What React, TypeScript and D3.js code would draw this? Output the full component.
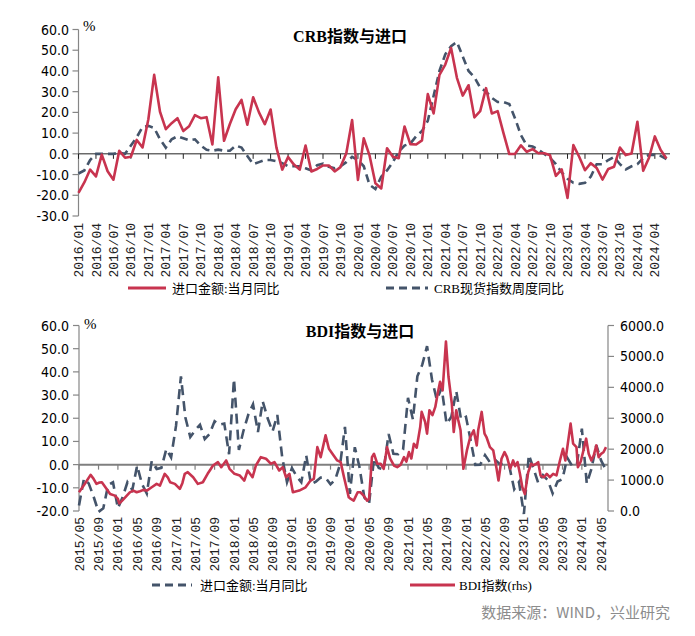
import React from "react";
import * as d3 from "d3";

const W = 695;
const H = 636;

// ---------- DATA ----------
// China import value YoY (%), monthly, starting 2015/05
const importStart = "2015-05";
const importYoY = [
  -17.6, -6.1, -8.1, -13.8, -20.4, -18.8, -8.7, -7.6,
  -18.8, -13.8, -7.6, -10.9, -0.4, -8.4, -12.5, 1.5, -1.9, -1.4, 6.7, 3.1,
  16.7, 38.1, 20.3, 11.9, 14.8, 17.2, 11.0, 13.3, 18.7, 17.2, 17.7, 4.5,
  36.9, 6.3, 14.4, 21.5, 26.0, 14.1, 27.3, 20.0, 14.3, 21.4, 3.0, -7.6,
  -1.5, -5.2, -7.6, 4.0, -8.5, -7.3, -5.6, -5.6, -8.5, -6.4, 0.3, 16.3,
  -12.6, 7.5, -0.9, -14.2, -16.7, 2.7, -1.4, -2.1, 13.2, 4.7, 4.5, 6.5,
  28.8, 19.5, 38.1, 43.1, 51.1, 36.7, 28.1, 33.1, 17.6, 20.6, 31.7, 19.5,
  20.6, 10.0, -0.1, 0.0, 4.1, 1.0, 2.3, 0.3, 0.3, -0.7, -10.6, -7.5,
  -21.3, 4.2, -1.4, -7.9, -4.5, -6.8, -12.4, -7.3, -6.2, 3.0, -0.6, 0.2,
  15.5, -8.2, -1.9, 8.4, 1.8, -2.3,
];

// CRB spot index weekly YoY (%), sampled monthly, starting 2016/01
const crbStart = "2016-01";
const crbYoY = [
  -9.5, -8, -3, 0, 0, 0, 0, 0.5, 0, 4, 8, 13,
  13.5, 12.5, 7, 3, 7, 8.5, 7.5, 6.5, 7, 4, 2, 1.5,
  2, 1.5, 1.5, 4, 3, -1, -5, -4, -3, -3, -3.5, -4.5,
  -6, -6, -6, -7, -8, -5.5, -4.7, -6.2, -7, -6, -4, -1.5,
  -3, -6, -15, -17, -11, -8, -4, 1, 4, 5, 8.5, 11,
  16, 28, 40, 48, 52, 54, 47, 40, 37, 32, 30, 27,
  25, 25, 24, 17, 9, 4, 3.5, 2, 0, -2, -5, -9,
  -12, -14, -14.5, -14, -11, -5, -5, -3, -1.5, -5, -7.5, -6,
  -5, -2, -0.5, -0.5, -1, -2.5,
];

// BDI index (rhs)
const bdiDates = [
  "2015-05-01", "2015-06-07", "2015-07-13", "2015-08-01", "2015-08-19", "2015-09-07", "2015-09-22", "2015-10-22",
  "2015-11-13", "2015-12-13", "2016-01-01", "2016-01-10", "2016-01-25", "2016-02-16", "2016-03-16", "2016-04-07",
  "2016-04-28", "2016-05-19", "2016-06-10", "2016-07-01", "2016-08-01", "2016-09-01", "2016-09-22", "2016-10-22",
  "2016-11-10", "2016-11-25", "2016-12-25", "2017-01-25", "2017-02-10", "2017-02-25", "2017-03-16", "2017-04-19",
  "2017-05-19", "2017-06-19", "2017-07-19", "2017-08-07", "2017-08-22", "2017-09-22", "2017-10-13", "2017-11-13",
  "2017-12-04", "2018-01-04", "2018-02-07", "2018-03-07", "2018-03-28", "2018-04-28", "2018-05-19", "2018-06-19",
  "2018-07-22", "2018-08-22", "2018-09-13", "2018-10-13", "2018-11-04", "2018-11-25", "2018-12-16", "2019-01-07",
  "2019-02-16", "2019-03-28", "2019-04-28", "2019-05-19", "2019-06-10", "2019-07-01", "2019-08-01", "2019-08-22",
  "2019-09-13", "2019-10-13", "2019-11-04", "2019-11-25", "2019-12-25", "2020-01-07", "2020-01-25", "2020-02-19",
  "2020-03-07", "2020-03-28", "2020-04-19", "2020-05-01", "2020-05-19", "2020-06-01", "2020-06-22", "2020-07-13",
  "2020-08-01", "2020-08-22", "2020-09-10", "2020-10-04", "2020-10-25", "2020-11-16", "2020-12-07", "2020-12-22",
  "2021-01-07", "2021-01-22", "2021-02-07", "2021-02-25", "2021-03-19", "2021-03-28", "2021-04-19", "2021-05-01",
  "2021-05-16", "2021-06-04", "2021-06-22", "2021-07-07", "2021-07-22", "2021-08-07", "2021-08-28", "2021-09-13",
  "2021-10-04", "2021-10-16", "2021-11-01", "2021-11-13", "2021-11-28", "2021-12-16", "2022-01-07", "2022-01-28",
  "2022-02-19", "2022-03-10", "2022-03-19", "2022-04-10", "2022-04-28", "2022-05-10", "2022-06-01", "2022-06-22",
  "2022-07-13", "2022-07-25", "2022-08-13", "2022-09-01", "2022-09-16", "2022-10-07", "2022-10-25", "2022-11-07",
  "2022-11-22", "2022-12-07", "2022-12-22", "2023-01-07", "2023-01-28", "2023-02-16", "2023-03-01", "2023-03-19",
  "2023-04-01", "2023-04-16", "2023-05-07", "2023-05-25", "2023-06-13", "2023-07-04", "2023-07-25", "2023-08-16",
  "2023-09-04", "2023-09-19", "2023-10-01", "2023-10-22", "2023-11-07", "2023-11-28", "2023-12-07", "2023-12-25",
  "2024-01-16", "2024-01-28", "2024-02-13", "2024-03-01", "2024-03-16", "2024-04-01", "2024-04-16", "2024-05-01",
  "2024-05-16", "2024-06-01",
];
const bdiValues = [
  605, 880, 1170, 1040, 877, 920, 930, 715,
  552, 497, 390, 247, 320, 442, 605, 660,
  607, 640, 683, 660, 767, 877, 822, 1202,
  1090, 930, 877, 715, 900, 1202, 1255, 1092,
  877, 930, 1202, 1350, 1472, 1580, 1418, 1635,
  1365, 1202, 1147, 985, 1310, 1092, 1472, 1742,
  1690, 1527, 1580, 1310, 1418, 1092, 1202, 605,
  660, 767, 985, 1040, 2067, 1742, 2447, 2015,
  1852, 1635, 1580, 1092, 442, 390, 336, 605,
  607, 497, 335, 400, 1742, 1850, 1527, 1527,
  1365, 2067, 1700, 1472, 1418, 1500, 1742, 1600,
  1905, 1700, 2177, 2050, 2717, 3205, 2880, 2502,
  3260, 3100, 3367, 3800, 4180, 3900, 5480, 4342,
  3477, 2555, 3260, 2950, 2610, 1365, 1960, 2392,
  2610, 2122, 2610, 3205, 2502, 2392, 2067, 1960,
  1365, 985, 1690, 1905, 1750, 1365, 1635, 1450,
  1580, 1202, 767, 552, 1255, 1527, 1480, 1527,
  1580, 1147, 1092, 1200, 1092, 1202, 1150, 1635,
  2015, 1635, 2050, 2827, 2177, 2067, 1418, 1600,
  2067, 2340, 1852, 1635, 1800, 2122, 1742, 1850,
  1900, 2067,
];

const topYTicks = [60, 50, 40, 30, 20, 10, 0, -10, -20, -30];
const botLeftTicks = [60, 50, 40, 30, 20, 10, 0, -10, -20];
const botRightTicks = [6000, 5000, 4000, 3000, 2000, 1000, 0];

const topTitle = "CRB指数与进口";
const botTitle = "BDI指数与进口";
const legImport = "进口金额:当月同比";
const legCrb = "CRB现货指数周度同比";
const legBdi = "BDI指数(rhs)";
const sourceText = "数据来源：WIND，兴业研究";

// ---------- STYLE ----------
const RED = "#C8344F";
const NAVY = "#44546A";
const AXIS_GRAY = "#868686";
const NUM_FONT = "'Liberation Sans Narrow', 'DejaVu Sans Condensed', 'Liberation Sans', sans-serif";
const MONO_FONT = "'Liberation Mono', 'DejaVu Sans Mono', monospace";
const SERIF_CJK = "'Liberation Serif', 'Noto Sans CJK SC', serif";

const parseMonth = d3.timeParse("%Y-%m");
const parseDay = d3.timeParse("%Y-%m-%d");
const fmtMonth = d3.timeFormat("%Y/%m");

export default function App() {
  // ===== Top chart =====
  const crbStartDate = parseMonth(crbStart) as Date;
  const impStartDate = parseMonth(importStart) as Date;
  const topMonths = crbYoY.map((_, i) => d3.timeMonth.offset(crbStartDate, i));
  const impOffset = d3.timeMonth.count(impStartDate, crbStartDate);
  const topImport = importYoY.slice(impOffset, impOffset + topMonths.length);

  const tx = d3.scaleLinear().domain([0, topMonths.length - 1]).range([78.5, 666.5]);
  const ty = d3.scaleLinear().domain([-30, 60]).range([216, 29.5]);
  const topLine = d3
    .line<number>()
    .x((_, i) => tx(i))
    .y((d) => ty(d));

  // ===== Bottom chart =====
  const bx = d3
    .scaleTime()
    .domain([impStartDate, parseMonth("2024-06") as Date])
    .range([79, 606]);
  const byL = d3.scaleLinear().domain([-20, 60]).range([511, 325.5]);
  const byR = d3.scaleLinear().domain([0, 6000]).range([511, 325.5]);
  const impDates = importYoY.map((_, i) => d3.timeMonth.offset(impStartDate, i));
  const impLine = d3
    .line<number>()
    .x((_, i) => bx(impDates[i]))
    .y((d) => byL(d));
  const bdiPts = bdiDates.map((d, i) => [parseDay(d) as Date, bdiValues[i]] as [Date, number]);
  const bdiLine = d3
    .line<[Date, number]>()
    .x((d) => bx(d[0]))
    .y((d) => byR(d[1]));
  const botTickMonths = d3.range(0, importYoY.length, 4).map((i) => impDates[i]);
  const botEnd = 608;

  return (
    <svg
      width={W}
      height={H}
      viewBox={`0 0 ${W} ${H}`}
      style={{ position: "absolute", left: 0, top: 0, background: "#fff" }}
    >
      <rect x={0} y={0} width={W} height={H} fill="#fff" />

      {/* ================= TOP CHART ================= */}
      <text x={350} y={42} textAnchor="middle" fontFamily={SERIF_CJK} fontWeight="bold" fontSize={16}>
        {topTitle}
      </text>
      <text x={83} y={31} fontFamily={SERIF_CJK} fontSize={15}>%</text>

      {/* left axis */}
      <line x1={tx(0)} x2={tx(0)} y1={ty(60)} y2={ty(-30)} stroke={AXIS_GRAY} strokeWidth={1.2} />
      {topYTicks.map((t) => (
        <g key={"ty" + t}>
          <line x1={tx(0) - 6} x2={tx(0)} y1={ty(t)} y2={ty(t)} stroke={AXIS_GRAY} strokeWidth={1.2} />
          <text x={69} y={ty(t)} dy="0.36em" textAnchor="end" fontFamily={NUM_FONT} fontSize={14}>
            {t.toFixed(1)}
          </text>
        </g>
      ))}

      {/* zero axis */}
      <line x1={tx(0)} x2={670} y1={ty(0)} y2={ty(0)} stroke="#222" strokeWidth={1} />
      {topMonths.map((m, i) =>
        i % 3 === 0 ? (
          <g key={"tx" + i}>
            <line x1={tx(i)} x2={tx(i)} y1={ty(0)} y2={ty(0) + 5} stroke="#222" strokeWidth={1} />
            <text
              transform={`translate(${tx(i)},${223}) rotate(-90)`}
              textAnchor="end"
              dy="0.35em"
              fontFamily={MONO_FONT}
              fontSize={13}
              fill="#222"
            >
              {fmtMonth(m)}
            </text>
          </g>
        ) : null
      )}

      <path d={topLine(crbYoY) || ""} fill="none" stroke={NAVY} strokeWidth={2.6} strokeDasharray="8,5" />
      <path d={topLine(topImport) || ""} fill="none" stroke={RED} strokeWidth={2.6} strokeLinejoin="round" />

      {/* legend top */}
      <line x1={128} x2={166} y1={288} y2={288} stroke={RED} strokeWidth={3} />
      <text x={172} y={288} dy="0.35em" fontFamily={SERIF_CJK} fontSize={13}>{legImport}</text>
      <line x1={386} x2={428} y1={288} y2={288} stroke={NAVY} strokeWidth={3} strokeDasharray="8,5" />
      <text x={434} y={288} dy="0.35em" fontFamily={SERIF_CJK} fontSize={13}>{legCrb}</text>

      {/* ================= BOTTOM CHART ================= */}
      <text x={360} y={337} textAnchor="middle" fontFamily={SERIF_CJK} fontWeight="bold" fontSize={16}>
        {botTitle}
      </text>
      <text x={84} y={329} fontFamily={SERIF_CJK} fontSize={15}>%</text>

      {/* left axis */}
      <line x1={79} x2={79} y1={byL(60)} y2={byL(-20)} stroke={AXIS_GRAY} strokeWidth={1.2} />
      {botLeftTicks.map((t) => (
        <g key={"bl" + t}>
          <line x1={73} x2={79} y1={byL(t)} y2={byL(t)} stroke={AXIS_GRAY} strokeWidth={1.2} />
          <text x={69} y={byL(t)} dy="0.36em" textAnchor="end" fontFamily={NUM_FONT} fontSize={14}>
            {t.toFixed(1)}
          </text>
        </g>
      ))}
      {/* right axis */}
      <line x1={botEnd} x2={botEnd} y1={byR(6000)} y2={byR(0)} stroke={AXIS_GRAY} strokeWidth={1.2} />
      {botRightTicks.map((t) => (
        <g key={"br" + t}>
          <line x1={botEnd} x2={botEnd + 6} y1={byR(t)} y2={byR(t)} stroke={AXIS_GRAY} strokeWidth={1.2} />
          <text x={620} y={byR(t)} dy="0.36em" textAnchor="start" fontFamily={NUM_FONT} fontSize={14}>
            {t.toFixed(1)}
          </text>
        </g>
      ))}

      {/* zero axis */}
      <line x1={79} x2={botEnd} y1={byL(0)} y2={byL(0)} stroke="#7f7f7f" strokeWidth={2} />
      {botTickMonths.map((m, i) => (
        <g key={"bx" + i}>
          <line x1={bx(m)} x2={bx(m)} y1={byL(0)} y2={byL(0) + 5} stroke="#7f7f7f" strokeWidth={1.2} />
          <text
            transform={`translate(${bx(m)},${517}) rotate(-90)`}
            textAnchor="end"
            dy="0.35em"
            fontFamily={MONO_FONT}
            fontSize={13}
            fill="#222"
          >
            {fmtMonth(m)}
          </text>
        </g>
      ))}

      <path d={impLine(importYoY) || ""} fill="none" stroke={NAVY} strokeWidth={2.6} strokeDasharray="10,6" />
      <path d={bdiLine(bdiPts) || ""} fill="none" stroke={RED} strokeWidth={2.6} strokeLinejoin="round" />

      {/* legend bottom */}
      <line x1={152} x2={192} y1={585} y2={585} stroke={NAVY} strokeWidth={3} strokeDasharray="8,5" />
      <text x={200} y={585} dy="0.35em" fontFamily={SERIF_CJK} fontSize={13}>{legImport}</text>
      <line x1={410} x2={455} y1={585} y2={585} stroke={RED} strokeWidth={3} />
      <text x={459} y={585} dy="0.35em" fontFamily={SERIF_CJK} fontSize={13}>{legBdi}</text>

      {/* source */}
      <text x={670} y={618} textAnchor="end" fontFamily="'Noto Sans CJK SC', sans-serif" fontSize={15} fill="#8c8c8c">
        {sourceText}
      </text>
    </svg>
  );
}
